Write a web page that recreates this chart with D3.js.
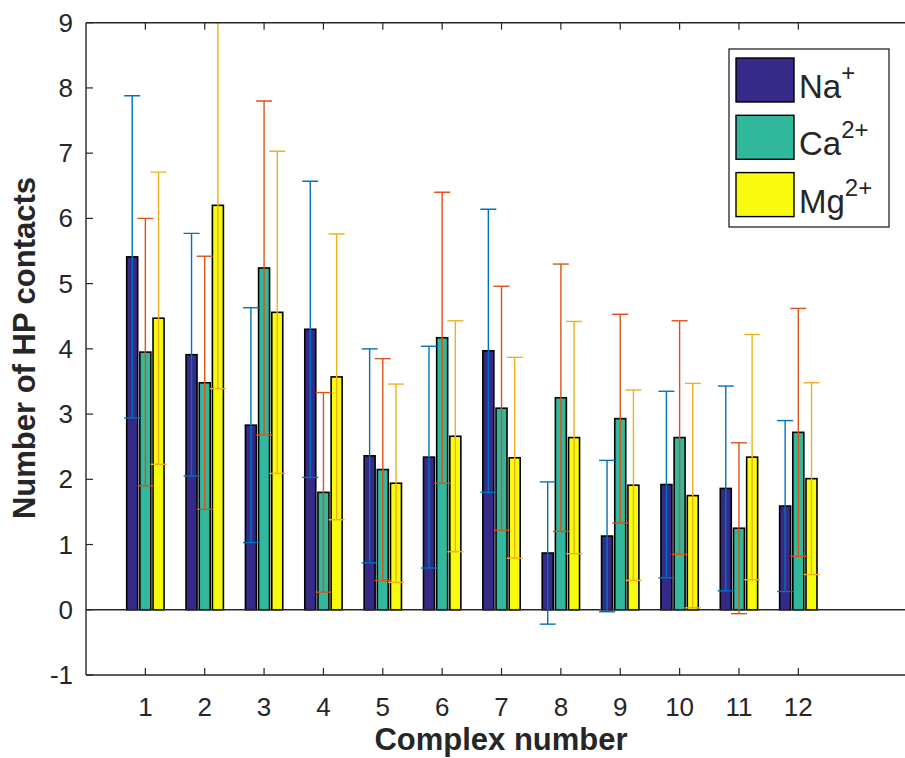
<!DOCTYPE html>
<html>
<head>
<meta charset="utf-8">
<script src="https://cdn.jsdelivr.net/npm/d3@7"></script>
<style>
  body { margin: 0; background: #fff; }
  text { font-family: "Liberation Sans", Arial, sans-serif; fill: #262626; }
</style>
</head>
<body>
<div id="chart"></div>
<script>
// complex numbers on the x axis
var complexes = [1, 2, 3, 4, 5, 6, 7, 8, 9, 10, 11, 12];
var yTicks = [-1, 0, 1, 2, 3, 4, 5, 6, 7, 8, 9];

// mean number of HP contacts and error (std) per ion
var na    = [5.41, 3.91, 2.83, 4.30, 2.36, 2.34, 3.97, 0.87, 1.13, 1.92, 1.86, 1.59];
var naErr = [2.47, 1.86, 1.80, 2.27, 1.64, 1.70, 2.17, 1.09, 1.16, 1.43, 1.57, 1.31];
var ca    = [3.95, 3.48, 5.24, 1.80, 2.15, 4.17, 3.09, 3.25, 2.93, 2.64, 1.25, 2.72];
var caErr = [2.05, 1.94, 2.56, 1.53, 1.70, 2.23, 1.87, 2.05, 1.60, 1.79, 1.31, 1.90];
var mg    = [4.47, 6.20, 4.56, 3.57, 1.94, 2.66, 2.33, 2.64, 1.91, 1.75, 2.34, 2.01];
var mgErr = [2.24, 2.81, 2.47, 2.19, 1.52, 1.77, 1.54, 1.78, 1.46, 1.72, 1.88, 1.47];

var series = [
  {name: "Na", sup: "+",  vals: na, errs: naErr, fill: "#352a87", err: "#0072bd", off: -0.222},
  {name: "Ca", sup: "2+", vals: ca, errs: caErr, fill: "#31b89d", err: "#d95319", off: 0},
  {name: "Mg", sup: "2+", vals: mg, errs: mgErr, fill: "#f9fb0e", err: "#edb120", off: 0.222}
];

var W = 905, H = 758;
var axL = 86, axT = 22.7, axB = 675;

var svg = d3.select("#chart").append("svg")
    .attr("width", W).attr("height", H);

// x axis runs 0..14, the right part is cut by the picture edge
var x = d3.scaleLinear().domain([0, 14]).range([axL, axL + 14 * 59.36]);
var y = d3.scaleLinear().domain([-1, 9]).range([axB, axT]);
var barW = x(0.185) - x(0);

svg.append("defs").append("clipPath").attr("id", "plot")
  .append("rect")
    .attr("x", axL).attr("y", axT)
    .attr("width", x(14) - axL).attr("height", axB - axT);

var plot = svg.append("g").attr("clip-path", "url(#plot)");

// bars
series.forEach(function(s) {
  plot.append("g").selectAll("rect")
    .data(complexes)
    .enter()
    .append("rect")
      .attr("x", function(d) { return x(d + s.off) - barW / 2; })
      .attr("y", function(d, i) { return y(s.vals[i]); })
      .attr("width", barW)
      .attr("height", function(d, i) { return y(0) - y(s.vals[i]); })
      .attr("fill", s.fill)
      .attr("stroke", "#000")
      .attr("stroke-width", 1.6);
});

// baseline at 0
plot.append("line")
  .attr("x1", axL).attr("x2", x(14))
  .attr("y1", y(0)).attr("y2", y(0))
  .attr("stroke", "#262626").attr("stroke-width", 1.5);

// error bars
var cap = 8;
series.forEach(function(s) {
  var g = plot.append("g").attr("stroke", s.err).attr("stroke-width", 1.4).attr("fill", "none");
  complexes.forEach(function(d, i) {
    var cx = x(d + s.off);
    var lo = y(s.vals[i] - s.errs[i]), hi = y(s.vals[i] + s.errs[i]);
    g.append("line").attr("x1", cx).attr("x2", cx).attr("y1", lo).attr("y2", hi);
    g.append("line").attr("x1", cx - cap).attr("x2", cx + cap).attr("y1", lo).attr("y2", lo);
    g.append("line").attr("x1", cx - cap).attr("x2", cx + cap).attr("y1", hi).attr("y2", hi);
  });
});

// axes box (left, top, bottom)
var axisColor = "#262626";
svg.append("line").attr("x1", axL).attr("x2", axL).attr("y1", axT).attr("y2", axB)
  .attr("stroke", axisColor).attr("stroke-width", 1.4);
svg.append("line").attr("x1", axL).attr("x2", W).attr("y1", axT).attr("y2", axT)
  .attr("stroke", axisColor).attr("stroke-width", 1.4);
svg.append("line").attr("x1", axL).attr("x2", W).attr("y1", axB).attr("y2", axB)
  .attr("stroke", axisColor).attr("stroke-width", 1.4);

// x ticks (inward, top and bottom) and labels
complexes.forEach(function(d) {
  svg.append("line").attr("x1", x(d)).attr("x2", x(d)).attr("y1", axB).attr("y2", axB - 7)
    .attr("stroke", axisColor).attr("stroke-width", 1.2);
  svg.append("line").attr("x1", x(d)).attr("x2", x(d)).attr("y1", axT).attr("y2", axT + 7)
    .attr("stroke", axisColor).attr("stroke-width", 1.2);
  svg.append("text").attr("x", x(d)).attr("y", 716)
    .attr("text-anchor", "middle").attr("font-size", 26).text(d);
});

// y ticks and labels
yTicks.forEach(function(v) {
  svg.append("line").attr("x1", axL).attr("x2", axL + 7).attr("y1", y(v)).attr("y2", y(v))
    .attr("stroke", axisColor).attr("stroke-width", 1.2);
  svg.append("text").attr("x", 73).attr("y", y(v) + 9)
    .attr("text-anchor", "end").attr("font-size", 26).text(v);
});

// axis titles
svg.append("text").attr("x", 501).attr("y", 750)
  .attr("text-anchor", "middle").attr("font-size", 31).attr("font-weight", "bold")
  .text("Complex number");
svg.append("text")
  .attr("transform", "translate(35,348) rotate(-90)")
  .attr("text-anchor", "middle").attr("font-size", 31).attr("font-weight", "bold")
  .text("Number of HP contacts");

// legend
var lg = svg.append("g");
lg.append("rect").attr("x", 729).attr("y", 49).attr("width", 160).attr("height", 178)
  .attr("fill", "#fff").attr("stroke", axisColor).attr("stroke-width", 1.3);
series.forEach(function(s, i) {
  var yy = 58 + i * 57.3;
  lg.append("rect").attr("x", 736).attr("y", yy).attr("width", 58).attr("height", 44)
    .attr("fill", s.fill).attr("stroke", "#000").attr("stroke-width", 1.4);
  var t = lg.append("text").attr("x", 799).attr("y", yy + 40).attr("font-size", 33);
  t.append("tspan").text(s.name);
  t.append("tspan").attr("dy", -17).attr("font-size", 24).text(s.sup);
});
</script>
</body>
</html>
